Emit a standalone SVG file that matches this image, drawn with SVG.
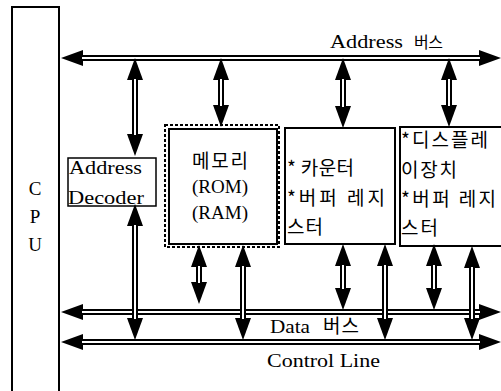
<svg xmlns="http://www.w3.org/2000/svg" width="501" height="391" viewBox="0 0 501 391">
<style>
.box{fill:#fff;stroke:#000;stroke-width:2}
.dash{fill:none;stroke:#000;stroke-width:2;stroke-dasharray:3 2}
.out{fill:none;stroke:#000;stroke-width:6}
.inn{fill:none;stroke:#fff;stroke-width:2}
.lat{font-family:"Liberation Serif","DejaVu Serif",serif;font-size:19px;fill:#000}
.kor{font-family:"Noto Sans CJK KR","Noto Sans CJK SC",sans-serif;font-size:19px;fill:#000}
</style>
<defs>
<marker id="ah" viewBox="0 0 22 16" refX="0" refY="8" markerWidth="22" markerHeight="16" markerUnits="userSpaceOnUse" orient="auto-start-reverse">
<path d="M0,0 L22,8 L0,16 z" fill="#000"/>
</marker>
</defs>
<rect width="501" height="391" fill="#fff"/>

<g id="cpu">
<rect class="box" x="12" y="7" width="47" height="400"/>
<text class="lat" x="35" y="195" text-anchor="middle">C</text>
<text class="lat" x="35" y="223" text-anchor="middle">P</text>
<text class="lat" x="35" y="251" text-anchor="middle">U</text>
</g>

<g id="address-decoder">
<rect class="box" x="68" y="158" width="88" height="48" style="stroke-width:1.5"/>
<text class="lat" x="69" y="174" textLength="73" lengthAdjust="spacingAndGlyphs">Address</text>
<text class="lat" x="68" y="204" textLength="76" lengthAdjust="spacingAndGlyphs">Decoder</text>
</g>

<g id="memory">
<rect class="dash" x="165" y="125" width="114" height="122"/>
<rect class="box" x="169" y="129" width="108" height="115"/>
<text class="kor" x="192" y="168" textLength="56">메모리</text>
<text class="lat" x="192" y="193" textLength="56" lengthAdjust="spacingAndGlyphs">(ROM)</text>
<text class="lat" x="192" y="219" textLength="56" lengthAdjust="spacingAndGlyphs">(RAM)</text>
</g>

<g id="counter">
<rect class="box" x="285" y="128" width="110" height="116"/>
<text class="kor" x="287" y="175" textLength="67">* 카운터</text>
<text class="kor" x="287" y="205" textLength="98">*버퍼 레지</text>
<text class="kor" x="287" y="234" textLength="36">스터</text>
</g>

<g id="display">
<rect class="box" x="400" y="127" width="110" height="119"/>
<text class="kor" x="401" y="147" textLength="87">*디스플레</text>
<text class="kor" x="401" y="177" textLength="56">이장치</text>
<text class="kor" x="401" y="206" textLength="95">*버퍼 레지</text>
<text class="kor" x="401" y="235" textLength="37">스터</text>
</g>

<g id="connectors">
<path class="out" d="M83,58 H479" marker-start="url(#ah)" marker-end="url(#ah)"/>
<path class="inn" d="M82,58 H480"/>
<path class="out" d="M83,312 H479" marker-start="url(#ah)" marker-end="url(#ah)"/>
<path class="inn" d="M82,312 H480"/>
<path class="out" d="M83,342 H479" marker-start="url(#ah)" marker-end="url(#ah)"/>
<path class="inn" d="M82,342 H480"/>
<path class="out" d="M135,80 V134" marker-start="url(#ah)" marker-end="url(#ah)"/>
<path class="inn" d="M135,79 V135"/>
<path class="out" d="M221,80 V105" marker-start="url(#ah)" marker-end="url(#ah)"/>
<path class="inn" d="M221,79 V106"/>
<path class="out" d="M343,80 V106" marker-start="url(#ah)" marker-end="url(#ah)"/>
<path class="inn" d="M343,79 V107"/>
<path class="out" d="M449,80 V105" marker-start="url(#ah)" marker-end="url(#ah)"/>
<path class="inn" d="M449,79 V106"/>
<path class="out" d="M135,226 V318" marker-start="url(#ah)" marker-end="url(#ah)"/>
<path class="inn" d="M135,225 V319"/>
<path class="out" d="M199,267 V282" marker-start="url(#ah)" marker-end="url(#ah)"/>
<path class="inn" d="M199,266 V283"/>
<path class="out" d="M243,267 V318" marker-start="url(#ah)" marker-end="url(#ah)"/>
<path class="inn" d="M243,266 V319"/>
<path class="out" d="M343,266 V288" marker-start="url(#ah)" marker-end="url(#ah)"/>
<path class="inn" d="M343,265 V289"/>
<path class="out" d="M385,266 V318" marker-start="url(#ah)" marker-end="url(#ah)"/>
<path class="inn" d="M385,265 V319"/>
<path class="out" d="M434,266 V288" marker-start="url(#ah)" marker-end="url(#ah)"/>
<path class="inn" d="M434,265 V289"/>
<path class="out" d="M472,268 V318" marker-start="url(#ah)" marker-end="url(#ah)"/>
<path class="inn" d="M472,267 V319"/>
</g>

<g id="labels">
<text x="330" y="48"><tspan class="lat" textLength="73" lengthAdjust="spacingAndGlyphs">Address</tspan><tspan class="kor" x="414" style="font-size:16px" textLength="29">버스</tspan></text>
<text x="270" y="333"><tspan class="lat" textLength="40" lengthAdjust="spacingAndGlyphs">Data</tspan><tspan class="kor" x="323" textLength="36">버스</tspan></text>
<text class="lat" x="267" y="367" textLength="113" lengthAdjust="spacingAndGlyphs">Control Line</text>
</g>
</svg>
